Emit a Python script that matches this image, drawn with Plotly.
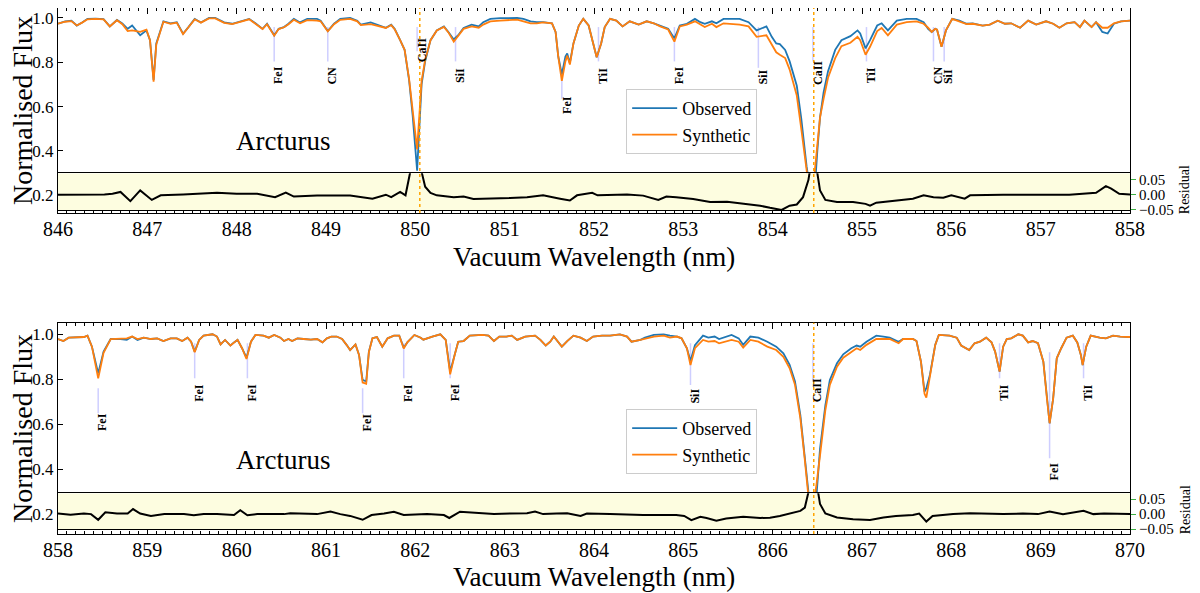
import plotly.graph_objects as go

# ---------------- top panel: 846-858 nm ----------------
top_wave = [846.00, 846.08, 846.15, 846.21, 846.27, 846.33, 846.42, 846.51, 846.58, 846.66,
            846.72, 846.78, 846.83, 846.92, 846.99, 847.03, 847.07, 847.10, 847.18, 847.26,
            847.33, 847.40, 847.46, 847.53, 847.60, 847.69, 847.76, 847.86, 847.95, 848.04,
            848.14, 848.21, 848.29, 848.34, 848.42, 848.47, 848.53, 848.58, 848.64, 848.71,
            848.79, 848.90, 848.94, 849.02, 849.09, 849.16, 849.27, 849.35, 849.39, 849.50,
            849.59, 849.67, 849.73, 849.77, 849.83, 849.88, 849.93, 849.97, 850.02, 850.07,
            850.11, 850.17, 850.24, 850.32, 850.37, 850.43, 850.48, 850.54, 850.63, 850.71,
            850.76, 850.84, 850.95, 851.06, 851.14, 851.21, 851.29, 851.36, 851.43, 851.53,
            851.57, 851.60, 851.64, 851.68, 851.70, 851.73, 851.77, 851.83, 851.88, 851.94,
            851.99, 852.03, 852.08, 852.12, 852.18, 852.25, 852.32, 852.40, 852.50, 852.59,
            852.67, 852.74, 852.83, 852.90, 852.96, 853.04, 853.13, 853.19, 853.24, 853.32,
            853.37, 853.45, 853.54, 853.63, 853.73, 853.82, 853.93, 853.99, 854.04, 854.08,
            854.14, 854.19, 854.27, 854.32, 854.38, 854.41, 854.44, 854.47, 854.50, 854.53,
            854.57, 854.62, 854.70, 854.77, 854.87, 854.95, 854.98, 855.04, 855.09, 855.17,
            855.22, 855.29, 855.39, 855.50, 855.61, 855.69, 855.74, 855.78, 855.82, 855.84,
            855.89, 855.94, 856.01, 856.09, 856.17, 856.24, 856.35, 856.43, 856.52, 856.60,
            856.67, 856.77, 856.86, 856.95, 857.06, 857.14, 857.21, 857.29, 857.38, 857.44,
            857.49, 857.57, 857.62, 857.69, 857.75, 857.82, 857.90, 858.00]
top_obs = [0.974, 0.985, 0.988, 0.966, 0.980, 0.996, 0.997, 0.995, 0.962, 0.991,
           0.975, 0.951, 0.966, 0.922, 0.944, 0.900, 0.720, 0.885, 0.985, 0.976,
           0.981, 0.929, 0.959, 0.996, 0.980, 1.000, 1.000, 0.980, 0.974, 0.985,
           0.996, 0.976, 0.951, 0.974, 0.922, 0.951, 0.959, 0.974, 0.996, 0.980,
           0.996, 0.996, 0.988, 0.941, 0.974, 0.996, 1.000, 0.988, 0.970, 0.980,
           0.966, 0.956, 0.970, 0.950, 0.900, 0.856, 0.720, 0.560, 0.311, 0.700,
           0.805, 0.900, 0.944, 0.962, 0.937, 0.903, 0.922, 0.955, 0.970, 0.962,
           0.981, 0.996, 0.999, 1.000, 1.000, 0.996, 0.985, 0.981, 0.981, 0.976,
           0.937, 0.826, 0.745, 0.826, 0.840, 0.797, 0.885, 0.966, 0.996, 0.966,
           0.885, 0.823, 0.885, 0.959, 0.996, 0.988, 0.962, 0.985, 0.970, 0.985,
           0.976, 0.966, 0.951, 0.908, 0.966, 0.974, 0.996, 0.981, 0.974, 0.985,
           0.976, 0.996, 0.996, 0.996, 0.981, 0.944, 0.962, 0.915, 0.885, 0.882,
           0.856, 0.804, 0.694, 0.547, 0.330, 0.250, 0.200, 0.220, 0.400, 0.550,
           0.664, 0.760, 0.856, 0.900, 0.918, 0.944, 0.930, 0.863, 0.900, 0.966,
           0.976, 0.944, 0.988, 0.996, 0.996, 0.981, 0.951, 0.937, 0.951, 0.947,
           0.870, 0.944, 0.996, 0.988, 0.974, 0.976, 0.966, 0.970, 0.988, 0.974,
           0.976, 0.956, 0.988, 0.970, 0.985, 0.974, 0.956, 0.976, 0.981, 0.959,
           0.988, 0.959, 0.981, 0.937, 0.930, 0.974, 0.985, 0.988]
top_syn = [0.974, 0.983, 0.986, 0.966, 0.979, 0.994, 0.996, 0.994, 0.962, 0.990,
           0.972, 0.941, 0.944, 0.937, 0.947, 0.900, 0.712, 0.880, 0.983, 0.974,
           0.979, 0.927, 0.958, 0.994, 0.979, 0.998, 0.998, 0.978, 0.972, 0.983,
           0.994, 0.974, 0.950, 0.972, 0.920, 0.950, 0.958, 0.972, 0.992, 0.976,
           0.990, 0.988, 0.985, 0.940, 0.972, 0.992, 0.996, 0.985, 0.968, 0.972,
           0.964, 0.955, 0.968, 0.948, 0.900, 0.856, 0.725, 0.585, 0.407, 0.715,
           0.812, 0.900, 0.944, 0.960, 0.935, 0.893, 0.918, 0.951, 0.962, 0.956,
           0.970, 0.985, 0.988, 0.991, 0.993, 0.985, 0.976, 0.976, 0.980, 0.976,
           0.937, 0.826, 0.716, 0.804, 0.830, 0.790, 0.885, 0.966, 0.996, 0.966,
           0.885, 0.823, 0.885, 0.959, 0.996, 0.988, 0.962, 0.985, 0.970, 0.985,
           0.976, 0.962, 0.948, 0.893, 0.962, 0.970, 0.985, 0.970, 0.959, 0.974,
           0.959, 0.976, 0.974, 0.970, 0.962, 0.915, 0.922, 0.878, 0.845, 0.834,
           0.819, 0.767, 0.650, 0.500, 0.300, 0.220, 0.180, 0.300, 0.440, 0.550,
           0.635, 0.730, 0.819, 0.873, 0.888, 0.915, 0.900, 0.834, 0.870, 0.941,
           0.955, 0.922, 0.970, 0.981, 0.985, 0.974, 0.956, 0.937, 0.951, 0.947,
           0.870, 0.944, 0.996, 0.985, 0.972, 0.974, 0.966, 0.970, 0.988, 0.974,
           0.976, 0.956, 0.988, 0.970, 0.985, 0.974, 0.956, 0.976, 0.981, 0.959,
           0.988, 0.959, 0.981, 0.956, 0.956, 0.976, 0.985, 0.988]
top_res_wave = [846.00, 846.30, 846.52, 846.61, 846.70, 846.81, 846.92, 847.05, 847.15, 847.40,
                847.78, 848.00, 848.23, 848.43, 848.55, 848.64, 848.90, 849.27, 849.52, 849.67,
                849.73, 849.83, 849.89, 849.94, 850.00, 850.07, 850.11, 850.17, 850.24, 850.43,
                850.54, 850.65, 850.87, 851.06, 851.25, 851.43, 851.62, 851.73, 851.81, 851.98,
                852.04, 852.18, 852.37, 852.55, 852.72, 852.81, 852.92, 853.11, 853.30, 853.49,
                853.67, 853.86, 853.97, 854.10, 854.19, 854.27, 854.34, 854.40, 854.44, 854.49,
                854.53, 854.59, 854.72, 854.90, 855.04, 855.09, 855.16, 855.35, 855.57, 855.69,
                855.80, 855.91, 856.00, 856.15, 856.21, 856.58, 856.95, 857.32, 857.62, 857.73,
                857.79, 857.88, 858.00]
top_res = [0.000, 0.000, 0.001, 0.003, 0.009, -0.021, 0.014, -0.017, -0.002, 0.001,
           0.006, 0.003, 0.003, -0.008, 0.007, -0.006, -0.003, -0.003, -0.013, 0.000,
           -0.008, 0.009, -0.002, 0.070, 0.140, 0.075, 0.026, 0.006, -0.002, -0.008,
           -0.006, -0.014, -0.013, -0.011, -0.008, -0.002, -0.013, -0.019, -0.002, 0.006,
           -0.002, 0.000, 0.001, -0.003, -0.017, -0.006, -0.008, -0.014, -0.024, -0.023,
           -0.030, -0.036, -0.043, -0.050, -0.036, -0.032, -0.008, 0.048, 0.120, 0.090,
           0.014, -0.017, -0.024, -0.024, -0.030, -0.036, -0.026, -0.019, -0.013, -0.002,
           -0.008, -0.010, -0.002, -0.013, -0.002, 0.000, 0.001, 0.000, 0.006, 0.028,
           0.020, 0.003, 0.001]
top_line_wave = [848.42, 849.02, 850.02, 850.45, 851.64, 852.05, 852.90, 853.84, 854.45,
                 855.05, 855.80, 855.92]
top_line_name = ["FeI", "CN", "CaII", "SiI", "FeI", "TiI", "FeI", "SiI", "CaII",
                 "TiI", "CN", "SiI"]
top_caii = [850.05, 854.46]

# ---------------- bottom panel: 858-870 nm ----------------
bot_wave = [858.00, 858.06, 858.12, 858.21, 858.29, 858.33, 858.38, 858.45, 858.51, 858.59,
            858.70, 858.77, 858.83, 858.89, 858.96, 859.04, 859.11, 859.18, 859.26, 859.33,
            859.39, 859.45, 859.49, 859.53, 859.58, 859.63, 859.73, 859.78, 859.82, 859.87,
            859.93, 859.97, 860.01, 860.06, 860.11, 860.16, 860.21, 860.30, 860.36, 860.42,
            860.49, 860.53, 860.58, 860.62, 860.68, 860.75, 860.83, 860.90, 860.96, 861.01,
            861.06, 861.12, 861.18, 861.23, 861.27, 861.33, 861.37, 861.41, 861.45, 861.48,
            861.52, 861.57, 861.63, 861.69, 861.76, 861.82, 861.87, 861.91, 861.99, 862.06,
            862.09, 862.19, 862.28, 862.34, 862.39, 862.44, 862.48, 862.54, 862.61, 862.75,
            862.82, 862.88, 862.94, 863.02, 863.08, 863.14, 863.23, 863.34, 863.40, 863.46,
            863.51, 863.55, 863.64, 863.70, 863.77, 863.85, 863.92, 863.99, 864.09, 864.18,
            864.29, 864.37, 864.42, 864.52, 864.57, 864.67, 864.78, 864.85, 864.93, 864.98,
            865.04, 865.08, 865.13, 865.22, 865.28, 865.35, 865.40, 865.54, 865.62, 865.67,
            865.75, 865.84, 865.94, 866.04, 866.12, 866.19, 866.25, 866.31, 866.36, 866.40,
            866.44, 866.49, 866.53, 866.59, 866.64, 866.72, 866.79, 866.88, 866.94, 866.98,
            867.05, 867.16, 867.24, 867.31, 867.41, 867.46, 867.57, 867.61, 867.66, 867.70,
            867.72, 867.76, 867.82, 867.86, 867.98, 868.06, 868.11, 868.20, 868.26, 868.32,
            868.39, 868.45, 868.49, 868.54, 868.58, 868.62, 868.67, 868.75, 868.80, 868.86,
            868.91, 868.97, 869.03, 869.07, 869.10, 869.14, 869.18, 869.23, 869.29, 869.36,
            869.41, 869.45, 869.47, 869.51, 869.56, 869.66, 869.73, 869.81, 869.89, 870.00]
bot_obs = [0.979, 0.970, 0.985, 0.985, 0.988, 0.994, 0.945, 0.826, 0.923, 0.979,
           0.979, 0.975, 0.990, 0.975, 0.985, 0.979, 0.982, 0.970, 0.982, 0.982,
           0.970, 0.985, 0.967, 0.923, 0.975, 0.994, 1.000, 0.990, 0.955, 0.975,
           0.950, 0.964, 0.975, 0.938, 0.896, 0.967, 0.997, 0.994, 0.985, 0.997,
           0.985, 0.970, 0.979, 0.970, 0.982, 0.979, 0.976, 0.979, 0.964, 0.982,
           0.990, 0.990, 0.979, 0.953, 0.930, 0.955, 0.908, 0.797, 0.790, 0.923,
           0.982, 0.988, 0.945, 0.982, 0.994, 0.994, 0.940, 0.964, 0.997, 0.985,
           0.976, 0.990, 1.000, 0.975, 0.834, 0.908, 0.967, 0.970, 0.994, 0.997,
           0.994, 0.970, 0.990, 0.990, 0.994, 0.975, 0.990, 0.994, 0.975, 0.950,
           0.967, 0.990, 0.945, 0.970, 0.994, 0.985, 0.970, 0.990, 0.994, 0.994,
           1.000, 0.990, 0.967, 0.975, 0.985, 0.997, 1.000, 0.994, 0.990, 0.982,
           0.938, 0.881, 0.952, 0.994, 0.985, 0.990, 0.979, 0.997, 0.982, 0.953,
           0.990, 0.985, 0.967, 0.945, 0.915, 0.864, 0.790, 0.640, 0.448, 0.300,
           0.190, 0.280, 0.490, 0.685, 0.797, 0.871, 0.911, 0.938, 0.950, 0.945,
           0.967, 0.994, 0.990, 0.985, 0.967, 0.979, 0.979, 0.970, 0.878, 0.745,
           0.760, 0.819, 0.953, 0.997, 0.994, 0.985, 0.950, 0.930, 0.960, 0.967,
           0.985, 0.964, 0.923, 0.834, 0.945, 0.979, 0.982, 1.000, 0.994, 0.964,
           0.970, 0.960, 0.878, 0.715, 0.604, 0.715, 0.893, 0.938, 0.985, 0.994,
           0.964, 0.908, 0.863, 0.945, 0.994, 0.985, 0.982, 0.994, 0.990, 0.988]
bot_syn = [0.979, 0.970, 0.985, 0.985, 0.988, 0.994, 0.945, 0.804, 0.918, 0.979,
           0.979, 0.982, 0.990, 0.979, 0.985, 0.979, 0.982, 0.970, 0.982, 0.982,
           0.970, 0.985, 0.967, 0.920, 0.975, 0.994, 1.000, 0.990, 0.955, 0.975,
           0.950, 0.964, 0.975, 0.938, 0.890, 0.967, 0.997, 0.994, 0.985, 0.997,
           0.985, 0.970, 0.979, 0.970, 0.982, 0.979, 0.976, 0.979, 0.964, 0.982,
           0.990, 0.990, 0.979, 0.953, 0.930, 0.955, 0.908, 0.785, 0.780, 0.920,
           0.982, 0.988, 0.945, 0.982, 0.994, 0.994, 0.937, 0.964, 0.997, 0.985,
           0.976, 0.990, 1.000, 0.975, 0.822, 0.908, 0.967, 0.970, 0.994, 0.997,
           0.994, 0.970, 0.990, 0.990, 0.994, 0.975, 0.990, 0.994, 0.975, 0.950,
           0.967, 0.990, 0.945, 0.970, 0.994, 0.985, 0.970, 0.990, 0.994, 0.994,
           1.000, 0.990, 0.967, 0.975, 0.979, 0.990, 0.994, 0.985, 0.990, 0.982,
           0.938, 0.863, 0.938, 0.975, 0.967, 0.970, 0.960, 0.975, 0.967, 0.941,
           0.975, 0.967, 0.945, 0.930, 0.900, 0.849, 0.775, 0.626, 0.440, 0.280,
           0.200, 0.330, 0.460, 0.663, 0.775, 0.856, 0.896, 0.923, 0.938, 0.930,
           0.953, 0.979, 0.979, 0.979, 0.960, 0.979, 0.979, 0.970, 0.878, 0.735,
           0.718, 0.819, 0.953, 0.997, 0.994, 0.985, 0.950, 0.930, 0.960, 0.967,
           0.985, 0.964, 0.923, 0.834, 0.945, 0.979, 0.982, 1.000, 0.994, 0.964,
           0.970, 0.960, 0.878, 0.715, 0.604, 0.715, 0.893, 0.938, 0.985, 0.994,
           0.964, 0.908, 0.863, 0.945, 0.994, 0.985, 0.982, 0.994, 0.990, 0.988]
bot_res_wave = [858.00, 858.14, 858.29, 858.37, 858.45, 858.53, 858.66, 858.78, 858.84, 858.92,
                859.04, 859.19, 859.41, 859.52, 859.63, 859.78, 859.97, 860.04, 860.12, 860.23,
                860.53, 860.60, 860.90, 861.05, 861.16, 861.27, 861.41, 861.51, 861.65, 861.76,
                861.87, 862.06, 862.13, 862.32, 862.38, 862.50, 862.69, 862.88, 863.06, 863.25,
                863.34, 863.43, 863.58, 863.70, 863.85, 863.92, 864.18, 864.55, 864.92, 865.01,
                865.09, 865.19, 865.26, 865.37, 865.48, 865.67, 865.86, 865.97, 866.08, 866.19,
                866.31, 866.36, 866.41, 866.46, 866.50, 866.53, 866.59, 866.72, 866.90, 867.09,
                867.24, 867.38, 867.57, 867.64, 867.72, 867.79, 868.02, 868.21, 868.58, 868.80,
                868.97, 869.10, 869.25, 869.48, 869.59, 869.71, 870.00]
bot_res = [0.002, -0.002, 0.002, 0.000, -0.019, 0.006, 0.002, 0.002, 0.017, 0.002,
           -0.006, 0.000, 0.000, -0.004, 0.000, 0.000, -0.003, 0.013, -0.004, 0.000,
           0.000, 0.003, 0.000, 0.009, 0.000, -0.006, -0.019, -0.003, 0.002, 0.008,
           -0.003, 0.000, 0.000, -0.003, -0.013, 0.008, 0.003, 0.000, 0.002, 0.003,
           0.009, 0.000, 0.002, 0.003, -0.006, 0.002, 0.000, -0.003, -0.003, -0.006,
           -0.020, -0.009, -0.013, -0.022, -0.015, -0.009, -0.013, -0.012, -0.006, 0.002,
           0.011, 0.022, 0.073, 0.150, 0.090, 0.034, 0.002, -0.011, -0.017, -0.020,
           -0.011, -0.006, -0.003, 0.002, -0.025, -0.006, 0.000, 0.003, 0.000, 0.002,
           0.000, 0.009, 0.000, 0.011, 0.000, 0.002, 0.000]
bot_line_wave = [858.45, 859.53, 860.12, 861.41, 861.87, 862.39, 865.08, 866.45, 868.54,
                 869.10, 869.48]
bot_line_name = ["FeI", "FeI", "FeI", "FeI", "FeI", "FeI", "SiI", "CaII", "TiI",
                 "FeI", "TiI"]
bot_caii = [866.46]

# where the line markers/labels sit (top of tick, bottom of tick, label centre)
top_line_place = [(0.959, 0.804, 0.741), (0.959, 0.804, 0.741), (0.959, 0.850, 0.853),
                  (0.959, 0.804, 0.738), (0.720, 0.635, 0.609), (0.959, 0.804, 0.738),
                  (0.959, 0.804, 0.741), (0.959, 0.775, 0.735), (0.959, 0.804, 0.753),
                  (0.959, 0.804, 0.741), (0.959, 0.804, 0.741), (0.959, 0.804, 0.736)]
bot_line_place = [(0.760, 0.648, 0.608), (0.960, 0.804, 0.740), (0.960, 0.804, 0.740),
                  (0.760, 0.648, 0.608), (0.960, 0.804, 0.740), (0.960, 0.804, 0.740),
                  (0.960, 0.774, 0.727), (0.960, 0.790, 0.752), (0.960, 0.804, 0.740),
                  (0.920, 0.448, 0.390), (0.960, 0.804, 0.740)]

FONT = "Liberation Serif"
BLUE = "#1f77b4"
ORANGE = "#ff7f0e"
GREEN = "#3cb043"
RES_RANGE = [-0.05, 0.07]

fig = go.Figure()
annotations = []
shapes = []


def add_panel(ax, rax, wave, obs, syn, rwave, res, lwave, lname, lplace, caii, legend, xr):
    mx, my = "x" + ax, "y" + ax
    rx, ry = "x" + rax, "y" + rax
    # lavender line markers
    lx, ly = [], []
    for w, (t, b, _) in zip(lwave, lplace):
        lx += [w, w, None]
        ly += [t, b, None]
    fig.add_trace(go.Scatter(x=lx, y=ly, mode="lines", xaxis=mx, yaxis=my,
                             line=dict(color="rgba(60,60,255,0.25)", width=1.5),
                             showlegend=False, hoverinfo="skip"))
    fig.add_trace(go.Scatter(x=wave, y=obs, mode="lines", name="Observed", xaxis=mx, yaxis=my,
                             line=dict(color=BLUE, width=1.8), legend=legend))
    fig.add_trace(go.Scatter(x=wave, y=syn, mode="lines", name="Synthetic", xaxis=mx, yaxis=my,
                             line=dict(color=ORANGE, width=1.8), legend=legend))
    # residual box background, then residual curve
    fig.add_trace(go.Scatter(x=[xr[0], xr[1], xr[1], xr[0], xr[0]],
                             y=[RES_RANGE[0], RES_RANGE[0], RES_RANGE[1], RES_RANGE[1], RES_RANGE[0]],
                             mode="lines", fill="toself", fillcolor="#fdfde0",
                             line=dict(width=0), xaxis=rx, yaxis=ry,
                             showlegend=False, hoverinfo="skip"))
    fig.add_trace(go.Scatter(x=rwave, y=res, mode="lines", xaxis=rx, yaxis=ry,
                             line=dict(color="black", width=2), showlegend=False))
    for w, n, (_, _, ty) in zip(lwave, lname, lplace):
        annotations.append(dict(x=w + 0.05, y=ty, xref=mx, yref=my, text=n, textangle=-90,
                                showarrow=False, xanchor="center", yanchor="middle",
                                font=dict(family=FONT, size=12, weight="bold", color="black")))
    for w in caii:
        shapes.append(dict(type="line", xref=mx, yref=my + " domain", x0=w, x1=w, y0=0, y1=1,
                           line=dict(color="orange", width=1.5, dash="dot"), layer="above"))
    annotations.append(dict(x=0.21, y=0.352, xref=mx + " domain", yref=my + " domain",
                            text="Arcturus", showarrow=False, xanchor="center", yanchor="middle",
                            font=dict(family=FONT, size=27, color="black")))


add_panel("", "2", top_wave, top_obs, top_syn, top_res_wave, top_res,
          top_line_wave, top_line_name, top_line_place, top_caii, "legend", [846, 858])
add_panel("3", "4", bot_wave, bot_obs, bot_syn, bot_res_wave, bot_res,
          bot_line_wave, bot_line_name, bot_line_place, bot_caii, "legend2", [858, 870])

# axis titles as paper annotations
for yp in (0.5266, -0.0818):
    annotations.append(dict(x=0.5, y=yp, xref="paper", yref="paper", showarrow=False,
                            xanchor="center", yanchor="middle",
                            text="Vacuum Wavelength (nm)",
                            font=dict(family=FONT, size=27, color="black")))
for yp in (0.806, 0.2015):
    annotations.append(dict(x=-0.0336, y=yp, xref="paper", yref="paper", showarrow=False,
                            xanchor="center", yanchor="middle",
                            text="Normalised Flux", textangle=-90,
                            font=dict(family=FONT, size=28, color="black")))
for yp in (0.654, 0.0456):
    annotations.append(dict(x=1.0515, y=yp, xref="paper", yref="paper", showarrow=False,
                            xanchor="center", yanchor="middle",
                            text="Residual", textangle=-90,
                            font=dict(family=FONT, size=14, color="black")))


def main_x(rng, anchor):
    return dict(domain=[0, 1], range=rng, anchor=anchor, dtick=1, ticks="inside", ticklen=6,
                tickcolor="black", mirror="allticks", showline=True, linecolor="black",
                linewidth=1, showgrid=False, zeroline=False, ticklabelstandoff=-2,
                tickfont=dict(family=FONT, size=20, color="black"),
                minor=dict(dtick=0.1, ticks="inside", ticklen=3, tickcolor="black", showgrid=False))


def main_y(dom, rng, anchor):
    return dict(domain=dom, range=rng, anchor=anchor,
                tickvals=[0.2, 0.4, 0.6, 0.8, 1.0], tickformat=".1f", ticks="inside", ticklen=5,
                tickcolor="black", mirror=True, showline=True, linecolor="black", linewidth=1,
                showgrid=False, zeroline=False, ticklabeloverflow="allow",
                tickfont=dict(family=FONT, size=17, color="black"))


def res_x(rng, anchor):
    return dict(domain=[0, 1], range=rng, anchor=anchor, showticklabels=False, ticks="",
                showline=True, mirror=True, linecolor="black", linewidth=1,
                showgrid=False, zeroline=False)


def res_y(dom, anchor):
    return dict(domain=dom, range=RES_RANGE, anchor=anchor, side="right",
                tickvals=[-0.05, 0.0, 0.05], ticktext=["\u22120.05", "0.00", "0.05"],
                ticks="outside", ticklen=5, tickcolor=GREEN, showline=False,
                showgrid=False, zeroline=False, ticklabeloverflow="allow",
                tickfont=dict(family=FONT, size=15, color="black"))


legend_style = dict(xanchor="left", yanchor="top", bordercolor="#cccccc", borderwidth=1,
                    bgcolor="rgba(255,255,255,0.85)", itemwidth=45,
                    font=dict(family=FONT, size=18, color="black"))

fig.update_layout(
    width=1192, height=585,
    template="none",
    plot_bgcolor="white", paper_bgcolor="white",
    margin=dict(l=50, r=70, t=0, b=59),
    xaxis=main_x([846, 858], "y"),
    yaxis=main_y([0.6103, 1.0], [0.1196, 1.0451], "x"),
    xaxis2=res_x([846, 858], "y2"),
    yaxis2=res_y([0.6160, 0.6857], "x2"),
    xaxis3=main_x([858, 870], "y3"),
    yaxis3=main_y([0.0, 0.4017], [0.111, 1.0516], "x3"),
    xaxis4=res_x([858, 870], "y4"),
    yaxis4=res_y([0.0095, 0.0774], "x4"),
    legend=dict(x=0.530, y=0.846, **legend_style),
    legend2=dict(x=0.530, y=0.2376, **legend_style),
    annotations=annotations,
    shapes=shapes,
    font=dict(family=FONT, color="black"),
)

fig.write_html("out.html")
